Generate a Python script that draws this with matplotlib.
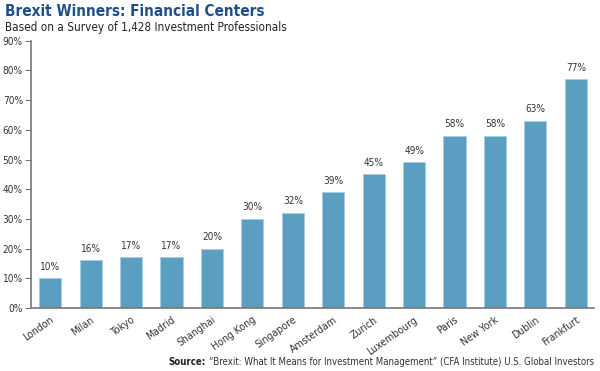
import matplotlib
matplotlib.use("Agg")
import matplotlib.pyplot as plt
import matplotlib.transforms as mtransforms
from matplotlib.ticker import FuncFormatter

cities = ["London", "Milan", "Tokyo", "Madrid", "Shanghai", "Hong Kong", "Singapore",
          "Amsterdam", "Zurich", "Luxembourg", "Paris", "New York", "Dublin", "Frankfurt"]
values = [10, 16, 17, 17, 20, 30, 32, 39, 45, 49, 58, 58, 63, 77]
y_ticks = [0, 10, 20, 30, 40, 50, 60, 70, 80, 90]

bar_color = "#5a9fc2"
title_color = "#1f4e8a"
text_color = "#333333"

plt.rcParams["font.family"] = ["DejaVu Sans"]
plt.rcParams["font.stretch"] = "condensed"

fig = plt.figure(figsize=(6, 3.71), dpi=100)
ax = fig.add_axes([0.052, 0.170, 0.938, 0.720])

x = range(len(cities))
ax.bar(x, values, width=0.55, color=bar_color, edgecolor="#a9cde0", linewidth=0.6)

for i, v in enumerate(values):
    ax.text(i, v + 2.2, f"{v}%", ha="center", va="bottom", fontsize=7.2, color=text_color)

ax.set_xlim(-0.47, len(cities) - 0.55)
ax.set_ylim(0, 90)
ax.set_yticks(y_ticks)
ax.yaxis.set_major_formatter(FuncFormatter(lambda v, p: f"{int(v)}%"))
ax.set_xticks(list(x))
ax.set_xticklabels(cities, rotation=35, ha="right", rotation_mode="anchor", fontsize=7.6)
shift = mtransforms.ScaledTranslation(4 / 100, 0, fig.dpi_scale_trans)
for lab in ax.get_xticklabels():
    lab.set_transform(lab.get_transform() + shift)

for s in ["top", "right"]:
    ax.spines[s].set_visible(False)
ax.spines["left"].set_color("#777777")
ax.spines["bottom"].set_color("#777777")
ax.spines["left"].set_linewidth(1.2)
ax.spines["bottom"].set_linewidth(1.2)
ax.tick_params(axis="y", length=4, color="#777777", labelsize=7.2, labelcolor=text_color, pad=2)
ax.tick_params(axis="x", length=0, labelsize=7.6, labelcolor=text_color, pad=5)

fig.canvas.draw()
r = fig.canvas.get_renderer()


def fit_text(xf, yf, s, width_px, size, **kw):
    # shrink the font until the text fits the width seen in the reference
    t = fig.text(xf, yf, s, fontsize=size, **kw)
    w = t.get_window_extent(r).width
    t.set_fontsize(size * width_px / w)
    return t


fig.text(0.008, 0.968, "Brexit Winners: Financial Centers", fontsize=11, fontweight="bold",
         color=title_color, va="center", ha="left")
fig.text(0.008, 0.927, "Based on a Survey of 1,428 Investment Professionals", fontsize=8.4,
         color="#222222", va="center", ha="left")

src_body = "“Brexit: What It Means for Investment Management” (CFA Institute) U.S. Global Investors"
t_body = fit_text(0.99, 0.012, src_body, 386, 7.5, color=text_color, ha="right", va="bottom")
w_body = t_body.get_window_extent(r).width
fig.text(0.99 - w_body / fig.bbox.width - 0.005, 0.012, "Source:", fontsize=t_body.get_fontsize(),
         fontweight="bold", color="#222222", ha="right", va="bottom")

fig.savefig("out.png", dpi=100)
